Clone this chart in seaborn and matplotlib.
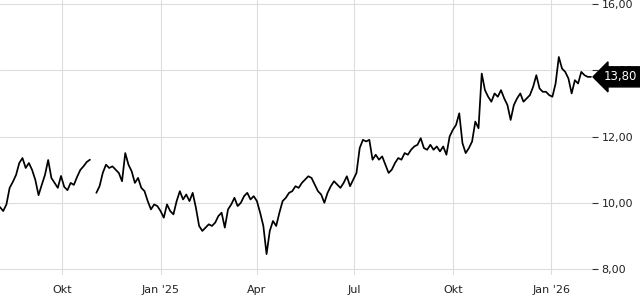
import numpy as np
import pandas as pd
import matplotlib
matplotlib.use("Agg")
import matplotlib.pyplot as plt
import matplotlib.transforms as mtransforms
import seaborn as sns

# ---- data ----
start_date = "2024-08-04"
step = "3D"
prices = [
    9.87, 9.75, 9.95, 10.45, 10.63, 10.84, 11.20, 11.35, 11.05, 11.20,
    10.99, 10.69, 10.23, 10.54, 10.84, 11.29, 10.75, 10.60, 10.45, 10.81,
    10.48, 10.38, 10.60, 10.54, 10.78, 10.99, 11.10, 11.23, 11.30, np.nan,
    10.30, 10.50, 10.90, 11.15, 11.05, 11.10, 11.00, 10.90, 10.65, 11.50,
    11.15, 10.95, 10.60, 10.75, 10.45, 10.35, 10.05, 9.80, 9.95, 9.90,
    9.75, 9.55, 9.95, 9.75, 9.65, 10.05, 10.35, 10.10, 10.25, 10.05,
    10.30, 9.85, 9.30, 9.15, 9.25, 9.35, 9.30, 9.40, 9.60, 9.70,
    9.25, 9.80, 9.95, 10.15, 9.90, 10.00, 10.20, 10.30, 10.10, 10.20,
    10.05, 9.70, 9.30, 8.45, 9.15, 9.45, 9.30, 9.70, 10.05, 10.15,
    10.30, 10.35, 10.50, 10.45, 10.60, 10.70, 10.80, 10.75, 10.55, 10.35,
    10.25, 10.00, 10.30, 10.50, 10.65, 10.55, 10.45, 10.60, 10.80, 10.50,
    10.70, 10.90, 11.65, 11.90, 11.85, 11.90, 11.30, 11.45, 11.30, 11.40,
    11.15, 10.90, 11.00, 11.20, 11.35, 11.30, 11.50, 11.45, 11.60, 11.70,
    11.75, 11.95, 11.65, 11.60, 11.75, 11.60, 11.70, 11.55, 11.70, 11.45,
    12.00, 12.20, 12.35, 12.70, 11.80, 11.50, 11.65, 11.85, 12.45, 12.25,
    13.90, 13.40, 13.20, 13.05, 13.30, 13.20, 13.40, 13.15, 12.95, 12.50,
    12.95, 13.15, 13.30, 13.05, 13.15, 13.25, 13.50, 13.85, 13.45, 13.35,
    13.35, 13.25, 13.20, 13.60, 14.40, 14.05, 13.95, 13.75, 13.30, 13.70,
    13.60, 13.95, 13.85, 13.80, 13.80,
]
last_price = 13.80
x_tick_dates = ["2024-10-01", "2025-01-01", "2025-04-01", "2025-07-01", "2025-10-01", "2026-01-01"]
x_tick_labels = ["Okt", "Jan '25", "Apr", "Jul", "Okt", "Jan '26"]
y_ticks = [8, 10, 12, 14, 16]

# ---- frame ----
dates = pd.date_range(start_date, periods=len(prices), freq=step)
df = pd.DataFrame({"date": dates, "price": prices})
df["seg"] = df["price"].isna().cumsum()
df = df.dropna()

sns.set_style("white")
plt.rcParams["font.family"] = ["DejaVu Sans"]

fig = plt.figure(figsize=(6.4, 3.0), dpi=100)
ax = fig.add_axes([0.0, 25 / 300, 592 / 640, 275 / 300])

sns.lineplot(data=df, x="date", y="price", units="seg", estimator=None,
             color="black", linewidth=1.25, ax=ax, legend=False)

ax.set_xlim(pd.Timestamp("2024-08-04"), pd.Timestamp("2026-02-08"))
ax.set_ylim(7.82, 16.12)
ax.set_xticks(pd.to_datetime(x_tick_dates))
ax.set_xticklabels(x_tick_labels)
ax.set_yticks(y_ticks)
ax.set_yticklabels([f"{v:.2f}".replace(".", ",") for v in y_ticks])
ax.yaxis.tick_right()
ax.tick_params(axis="y", which="both", right=True, left=False, length=4,
               width=0.8, color="#333333", labelsize=8, labelcolor="#222222", pad=3)
ax.tick_params(axis="x", length=0, labelsize=8, labelcolor="#222222", pad=7)
ax.grid(True, color="#dddddd", linewidth=0.8)
ax.set_axisbelow(True)
for s in ax.spines.values():
    s.set_visible(False)
ax.set_xlabel("")
ax.set_ylabel("")

trans = mtransforms.blended_transform_factory(ax.transAxes, ax.transData)
ax.text(1.0 + 12 / 592, last_price, f"{last_price:.2f}".replace(".", ","),
        transform=trans, ha="left", va="center", color="white", fontsize=8.5,
        bbox=dict(boxstyle="larrow,pad=0.3", fc="black", ec="black"),
        clip_on=False, zorder=10)

fig.savefig("out.png", dpi=100)
